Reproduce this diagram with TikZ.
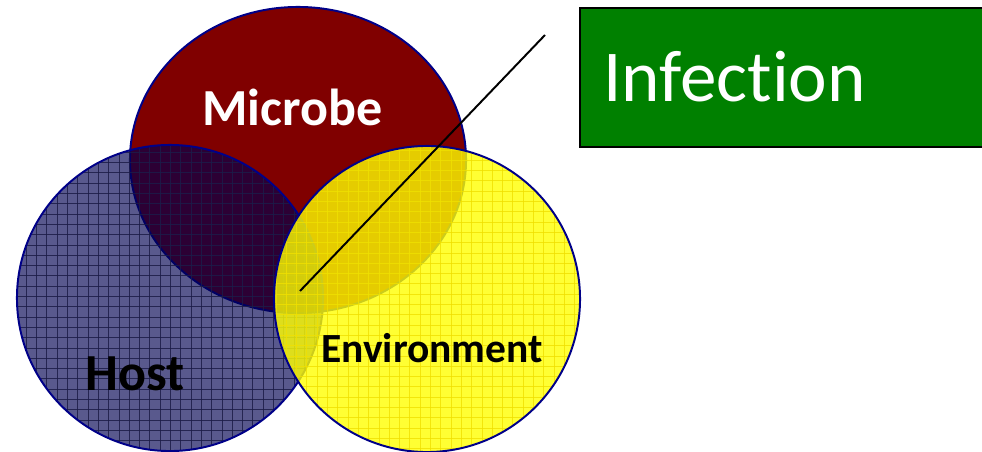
\documentclass[tikz,border=0pt]{standalone}
\usepackage{fontspec}
\setmainfont{Carlito}[Ligatures=NoCommon]
\usetikzlibrary{positioning}
\definecolor{maroonred}{HTML}{800000}
\definecolor{hostnavy}{HTML}{000050}
\definecolor{hostline}{HTML}{1C1C48}
\definecolor{envyellow}{HTML}{FFFF00}
\definecolor{envline}{HTML}{F0E000}
\definecolor{rimblue}{HTML}{000088}
\definecolor{boxgreen}{HTML}{008000}

\begin{document}
\begin{tikzpicture}[x=0.025cm, y=-0.025cm,
    rim/.style={draw=rimblue, line width=1.4pt},
    lbl/.style={font=\bfseries, inner sep=0pt, anchor=base west}]
  \useasboundingbox (0,0) rectangle (982,452);
  \clip (0,0) rectangle (982,452);
  % microbe
  \fill[maroonred] (298,160) ellipse [x radius=4.2cm, y radius=3.825cm];
  \draw[rim] (298,160) ellipse [x radius=4.2cm, y radius=3.825cm];
  % host
  \begin{scope}
    \clip (170,298) circle (3.825cm);
    \fill[hostnavy, opacity=0.65] (0,140) rectangle (330,460);
    \foreach \g in {0,...,32}{
      \draw[hostline, opacity=0.85, line width=0.6pt] ({16+\g*10.3},140) -- ({16+\g*10.3},460);
      \draw[hostline, opacity=0.85, line width=0.6pt] (10,{142+\g*10.3}) -- (330,{142+\g*10.3});
    }
  \end{scope}
  \draw[rim] (170,298) circle (3.825cm);
  % environment
  \begin{scope}
    \clip (427,299) circle (3.825cm);
    \fill[envyellow, opacity=0.8] (270,140) rectangle (590,460);
    \foreach \g in {0,...,32}{
      \draw[envline, opacity=0.8, line width=0.6pt] ({276+\g*10.3},140) -- ({276+\g*10.3},460);
      \draw[envline, opacity=0.8, line width=0.6pt] (270,{150+\g*10.3}) -- (590,{150+\g*10.3});
    }
  \end{scope}
  \draw[rim] (427,299) circle (3.825cm);
  \node[lbl, text=white, font=\bfseries\fontsize{37}{40}\selectfont] (microbe) at (202,125.5) {Microbe};
  \node[lbl, font=\bfseries\fontsize{37}{40}\selectfont] (host) at (85,391) {Host};
  \node[lbl, font=\bfseries\fontsize{29.5}{32}\selectfont] (env) at (321,363) {Environment};
  \node[draw=black, line width=1.4pt, fill=boxgreen, minimum width=13cm, minimum height=3.475cm,
    anchor=north west, inner sep=0pt] (infbox) at (579,7) {};
  \node[font=\fontsize{52}{56}\selectfont, text=white, inner sep=0pt, anchor=base west]
    (infection) at (603,102) {Infection};
  \coordinate (tip) at (300,291);
  \coordinate (lineend) at (545,35);
  \draw[black, line width=1.4pt] (lineend) -- (tip);
\end{tikzpicture}
\end{document}
